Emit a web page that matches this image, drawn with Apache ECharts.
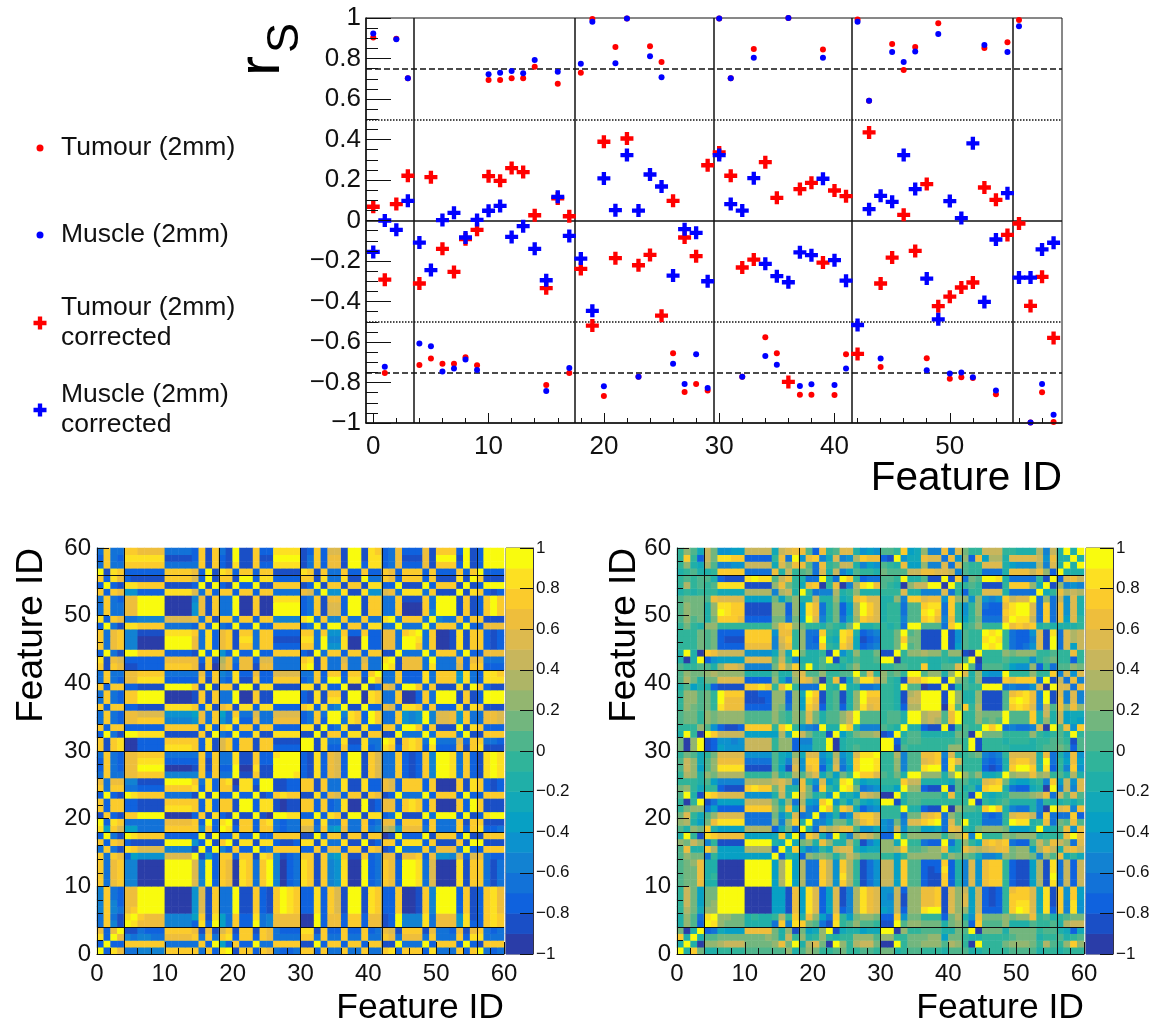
<!DOCTYPE html>
<html><head><meta charset="utf-8">
<style>html,body{margin:0;padding:0;background:#fff}#c{width:1167px;height:1023px}</style>
<script src="https://cdn.jsdelivr.net/npm/echarts@6/dist/echarts.min.js"></script>
</head><body><div id="c"></div>
<script>
const tumour=[.904,-.753,.897,.703,-.713,-.682,-.708,-.708,-.675,-.715,.694,.694,.702,.703,.759,-.812,.675,-.753,.730,.995,-.867,.857,.998,-.771,.860,.783,-.656,-.847,-.807,-.839,.998,.703,-.771,.847,-.577,-.656,1.0,-.860,-.860,.845,-.862,-.661,.992,.591,-.723,.871,.743,.857,-.680,.974,-.781,-.774,-.778,.852,-.858,.880,.990,-.997,-.848,-.995];
const muscle=[.923,-.722,.895,.703,-.608,-.621,-.746,-.731,-.687,-.738,.722,.730,.738,.727,.792,-.842,.735,-.728,.774,.982,-.819,.776,.998,-.771,.811,.707,-.708,-.807,-.661,-.827,.998,.703,-.771,.804,-.669,-.712,1.0,-.817,-.809,.804,-.812,-.731,.982,.591,-.682,.832,.783,.834,-.740,.921,-.756,-.750,-.774,.867,-.840,.832,.959,-.997,-.807,-.959];
const tumourCorrected=[.068,-.292,.081,.221,-.311,.214,-.140,-.254,-.092,-.046,.219,.196,.259,.239,.026,-.334,.109,.021,-.239,-.519,.389,-.186,.405,-.221,-.170,-.470,.097,-.084,-.176,.273,.336,.221,-.232,-.193,.288,.112,-.797,.155,.186,-.208,.148,.120,-.659,.435,-.311,-.183,.028,-.150,.180,-.423,-.376,-.331,-.306,.163,.102,-.071,-.015,-.422,-.278,-.580];
const muscleCorrected=[-.155,0,-.046,.097,-.109,-.245,.002,.038,-.084,.003,.048,.072,-.081,-.028,-.140,-.295,.117,-.076,-.188,-.446,.208,.051,.323,.049,.227,.168,-.272,-.043,-.061,-.300,.323,.081,.049,.209,-.214,-.275,-.305,-.157,-.171,.206,-.196,-.297,-.516,.056,.122,.092,.323,.155,-.287,-.488,.096,.012,.381,-.402,-.094,.135,-.282,-.282,-.143,-.110];
const scatterBounds=[3.5,17.5,29.5,41.5,55.5];
const dashedLevels=[.75,-.75];
const dottedLevels=[.5,-.5];
const matrixBounds=[4,18,30,42,56];
const scatterMajor=[0,10,20,30,40,50];
const scatterMinor=[2,4,6,8,12,14,16,18,22,24,26,28,32,34,36,38,42,44,46,48,52,54,56,58];
const palette=['#2A3DA8','#1A4FC6','#0F62DE','#1272D8','#1282D2','#0C92CE','#07A0C4','#12A8B8','#20AFA8','#30B49A','#4FB58C','#72B67E','#93B670','#AEB566','#C8B65C','#DDBA4E','#EEBE3C','#FBCB2C','#FDE022','#F9FB0E'];
const levelChars='0123456789abcdefghij';
// Lower triangles, row y=0 first, one character per cell: index into the 20 colour levels.
const leftRows=["j","2j","i2j","g2gj","3h41j","3h31ij","4h43ghj","4h42ggjj","4h32ggjjj","4h32ggjjjj",
"h3gh440000j","h3gh440000jj","h3gh440000jjj","h3gh440000jjjj","h3hg265555ffffj","3h31ihffff44441j","h2hg211111jjjj52j","2j31jihhhh22222j1j","i6hf663333hhhhh4h2j","j2ih333333ggggh2j2ij",
"1h21hhjjjj00002h1i21j","h2hh221111iiiih2i2hh1j","h2hh221111hhhhh2i2hh1jj","2j21jihhhh33331j1j22j22j","h3hh332222hhhhi2i2hh1ii1j","g3gg441111jjjjh3i2hi0ii2jj","3h33gghhhh44444h2h33j11h11j","2h32ggjjjj00001h1h22j00i11jj","2h32ggiiii22222h1h33i11h22jjj","3h32gghhhh33333h2h33i11h22ijjj",
"h1hi002222iiiih2i1fh2hh1hh2222j","h1hi002222hhhhh2i1fh2hh1hh1111jj","2j31jjiiii11111h1j32j22i11iiii11j","h2hh222222hhhhh2i2hi2hh2hh2222ii1j","3h32gghhhh44445g3h53i22g33gggg23h2j","3h32ggffff55556g3h63h33f33ffff23h3jj","h2hh221111iiiih2i1gh1ii2ii2222hi2i34j","3h32hhjjjj00001h1h33j00h11jjjj21i1ii1j","3h32hhjjjj00001h1h33j00h11jjjj21i1hh1jj","h2hh221111jjjjh1j1hh1jj1ii1111ii1i22j00j",
"3h32ggiiii22222h1h32i11h22hhhh23h2jj2ii1j","3h33gghhhh33333g2h43i22g22ffff33h2hh2hh2hj","h1hg112222hhhhg1h0eg2gg1gg3333ij1h33g33g33j","i1gf222222ggggg2h1dg3gg2ff3333hi1h33f33f33ij","2j31jjhhhh22221j2j52j22j22hhhh21j3hh2hh2hh11j","h3gh440000jjjjg3i2gh1hh3hh2222hh3j55i00j22gg3j","h3gh440000jjjjg3i2gh1ii3hh1111ii3j44i00j22gg3jj","h3gh441111iiiih3i2gh1hh3hh2222hh3h55h22h22gg3hij","2j31iihhhh33332h2j32j22j22hhhh23j2jj2hh2ii33j333j","i2hg334444ffffg3h1hh3hh2hh4444ij3h44h33h33ij3hhh3j",
"3h33ggjjjj00005g1h33j00h00jjjj23h1ff2jj1hh33h000h4j","3h33ggjjjj00005g1h33j00h00jjjj23h1ff2jj1hh33h000h3jj","3h32ggjjjj00004g1h33j00h00iiii23h1gg2jj1hh33h111h3jjj","h2hg552222iiiif3h2hh2hh2hh3333gf3j55i11i55fg3iii3h111j","2j21iihhhh11112j1j21j22j11hhhh12j1hh1hh1ii22j111j2hhh1j","h2ig211111hhhhf2j1hh1jj2ii2222hh1i33i11j33hg2hhh2h111i1j","j1ih222222hhhhg2j1ih2hh2hh1111ih1h33h22h22hg2hhh2h222h2hj","3h33hhhhhh33333h1h21i11h22iiii13h2gg1jj2ii23g222g1hhh2j12j","2h32iiiiii11112h1h21j11h11jjjj13h2gg1jj1ii23g111g1jjj1j12jj","3h33hhgggg33332h1h31j11h22iiii12h2ff1jj1ih23g222g1hhh2j12jjj"];
const rightRows=["j","8j","h8j","b08j","8ca2j","8ca3ij","9db7ccj","9eb6bcjj","9eb6bbjjj","9eb6bbjjjj",
"abbg880000j","abbg890000jj","abbg880000jjj","abcg880000jjjj","acbb3966666666j","ag88hd6666dddd2j","cbec491111jjjj87j","8j91ihgggg66667h7j","a8cbh86666dddd27b3j","cd86bgiiii3333c4ch8j",
"bf97acffff3333b58f34j","9bcc362222hhhhc9g7f43j","909j136666eeeeb7c3d65hj","aj81ihffff55558e8jeb895j","bc97992111hihhbf88gb3h97j","9998a64444ddddefd4g85f68ij","9dc8cbdddd9999c89dadf7a6b9j","aec6aciiii1111a61f5gh27f36hj","aec7acgggg3333a74e5hh46e47hjj","9ba79bffff5555a76c7ff57d57fiij",
"b0cj126555eeee9cc25599j089a999j","b0cj125545eeee9cc24499j0899999jj","8j90jheeee66666d7jeb991j69bccd12j","999ca52112hhhh9hj9543j88jh8444a98j","abb9cbccccaaaaca9cafb8aacejaaa9aa8j","abb9cbccccaaaaca9cafb8aacejaaa9aa8jj","9cbab9iggg2222cb3c6hf29a28cifg9982ddj","9ccab9jggg1112cc2c6ig19a18cjgg9981eejj","9ccab9jhhh1122cc2c7jh19a18cjhh9981dejjj","8a68821111hhih9gj9333j98j88334998jaa011j",
"adb8bbffff2222c73cgfc09g17ciifc981ggijj1j","acbbcdcccc8888b88dfaac99aajaf9cab9jjacc8cj","a99aa8cffe4444bgch9j8a998ac99999aa99h88aafj","808j256666ffffae94888aj198a99ajj0999988988aj","8j80hgeeee55557d7jb8891j58c99b11j9ccdcc9cc10j","999bab2222gggg4eg9c33h98hf723499bjab111j16a99j","999bab2111hhhh4fh9c32j87ig712399bhbb111j15a99ij","999bab2222hhhh5gg9c33h98ih823499bjab111j15a99jij","9b98cc99999999cghcb998a98bj8899893jjaaa3hj9ac999j","acab8bhhhg2222bb3b6jf48b37chgf8994aahig4g969b333gj",
"acbb8cjihh1111cc2c6ig38b26djhf8993aaijh3h959c222hij","acbb8ciihh1111cc2c6ig38b26djhf8993aahii3h959c322gijj","abbbagffff6666b6ac88e88c78ghff88c4hhfgg5hcc5c545heffj","8989997777dddd4de8j9344d89c888999f88444f39299fff83333j","9d9a9aiiii1111cgb97gh09g04dijga980ceejj0j99a91119hhhc7j","9a9aa82111ijiiaeg9833j83jh9233aa9j88a11j1h3bajji8333391j","89a889hhhh3333g8e9ab3f8e46a998baaaeeggffe4a993338gggegc2j","9c87da4455eeee7fcgga3g9aee8465a98g66c44f3fa99fff86555d4f8j","9h92ebiihh22229g3j5gh47f45dhgg21j577gff3g5c2g6dd8ffffe5g88j","9ca7eb5566eeee7efgga2g9aff8565aa9h67c44g4fb99eee99888d4e8j8j"];

const FONT='"Liberation Sans",Arial,sans-serif';
const INK='#111';
const CROSS='path://M4 0H8V4H12V8H8V12H4V8H0V4H4Z';
const minus=v=>String(+(+v).toFixed(1)).replace('-','\u2212');

function cells(rows){
  const out=[];
  for(let y=0;y<60;y++)for(let x=0;x<60;x++){
    const c=x<=y?rows[y][x]:rows[x][y];
    out.push([x,y,-0.95+0.1*levelChars.indexOf(c)]);
  }
  return out;
}
const idx=Array.from({length:60},(_,i)=>i);
const withX=a=>a.map((v,i)=>[idx[i],v]);
const hiddenCat=(gridIndex,data)=>({type:'category',gridIndex,data,show:false,boundaryGap:true});

function valueAxis(gridIndex,position){
  return {type:'value',gridIndex,position,min:0,max:60,interval:10,z:10,splitLine:{show:false},
    axisLine:{show:true,onZero:false,lineStyle:{color:INK,width:1}},
    axisTick:{show:true,inside:true,length:12,lineStyle:{color:INK,width:1}},
    minorTick:{show:true,splitNumber:5,length:6,lineStyle:{color:INK,width:1}},
    minorSplitLine:{show:false},
    axisLabel:{fontFamily:FONT,fontSize:24,color:INK,margin:position==='left'?6:8,padding:position==='left'?[8,0,0,0]:0}};
}
function cbAxis(gridIndex){
  return {type:'value',gridIndex,position:'right',min:-1,max:1,interval:.2,z:10,splitLine:{show:false},
    axisLine:{show:true,onZero:false,lineStyle:{color:'#334',width:1}},
    axisTick:{show:true,inside:true,length:13,lineStyle:{color:INK,width:1}},
    axisLabel:{fontFamily:FONT,fontSize:17,color:INK,margin:3,padding:[8,0,0,0],formatter:minus}};
}
const cbCats=palette.map((_,i)=>i);
const cbData=palette.map((_,i)=>[0,i,-0.95+0.1*i]);
const heat=(x,y,data)=>({type:'heatmap',xAxisIndex:x,yAxisIndex:y,data,progressive:0,animation:false,itemStyle:{borderWidth:0},emphasis:{disabled:true},z:2});
const guide=(x,y,lines)=>({type:'line',xAxisIndex:x,yAxisIndex:y,data:[],showSymbol:false,silent:true,z:5,
  markLine:{silent:true,symbol:'none',animation:false,label:{show:false},z:5,data:lines}});
const ml=(key,v,type,w)=>({[key]:v,lineStyle:{color:INK,type,width:w}});
const matLines=[...matrixBounds.map(v=>ml('xAxis',v,'solid',1)),...matrixBounds.map(v=>ml('yAxis',v,'solid',1))];
const points=(name,data,symbol,size,color,z)=>({name,type:'scatter',xAxisIndex:0,yAxisIndex:0,data:withX(data),symbol,symbolSize:size,itemStyle:{color,opacity:1},z,emphasis:{disabled:true}});
const legendOf=(name,top,size,left,pad)=>({data:[name],left,top,itemWidth:size,itemHeight:size,selectedMode:false,
  formatter:n=>n.replace(' corrected','\ncorrected'),
  textStyle:{fontFamily:FONT,fontSize:26.5,lineHeight:30,color:INK,padding:[0,0,0,pad]}});
const txt=(text,x,y,size,align,rot)=>({type:'text',x,y,rotation:rot||0,z:20,style:{text,x:0,y:0,font:size+'px '+FONT,fill:'#000',align,verticalAlign:'middle'}});

const option={
  backgroundColor:'#fff',animation:false,
  visualMap:{show:false,type:'piecewise',seriesIndex:[0,1,2,3],dimension:2,
    pieces:palette.map((color,i)=>({min:-1+0.1*i,max:-0.9+0.1*i,color}))},
  legend:[legendOf('Tumour (2mm)',128,7,31.5,12.5),legendOf('Muscle (2mm)',215,7,31.5,12.5),
          legendOf('Tumour (2mm) corrected',288,13,28.5,9.5),legendOf('Muscle (2mm) corrected',375,13,28.5,9.5)],
  grid:[
    {left:366,top:18,width:696,height:405,show:true,borderColor:INK,borderWidth:1,backgroundColor:'transparent'},
    {left:97,top:548,width:407,height:406},
    {left:506,top:548,width:27,height:406,show:true,borderColor:'#334',borderWidth:1},
    {left:677,top:548,width:407,height:406},
    {left:1086,top:548,width:27,height:406,show:true,borderColor:'#334',borderWidth:1}
  ],
  xAxis:[
    {type:'value',gridIndex:0,position:'bottom',min:-.63,max:59.73,z:10,splitLine:{show:false},
      axisLine:{show:true,onZero:false,lineStyle:{color:INK,width:1.5}},
      axisTick:{show:true,inside:true,length:10,customValues:scatterMajor,lineStyle:{color:INK,width:1}},
      axisLabel:{fontFamily:FONT,fontSize:26,color:INK,margin:11,customValues:scatterMajor}},
    {type:'value',gridIndex:0,position:'bottom',min:-.63,max:59.73,z:10,splitLine:{show:false},
      axisLine:{show:false,onZero:false},
      axisTick:{show:true,inside:true,length:5,customValues:scatterMinor,lineStyle:{color:INK,width:1}},
      axisLabel:{show:false}},
    hiddenCat(1,idx),valueAxis(1,'bottom'),
    hiddenCat(2,[0]),
    hiddenCat(3,idx),valueAxis(3,'bottom'),
    hiddenCat(4,[0])
  ],
  yAxis:[
    {type:'value',gridIndex:0,position:'left',min:-1,max:1,interval:.2,z:10,splitLine:{show:false},
      axisLine:{show:true,onZero:false,lineStyle:{color:INK,width:1.5}},
      axisTick:{show:true,inside:true,length:25,lineStyle:{color:INK,width:1}},
      minorTick:{show:true,splitNumber:4,length:12,lineStyle:{color:INK,width:1}},
      axisLabel:{fontFamily:FONT,fontSize:26,color:INK,margin:5,padding:[12,0,0,0],formatter:minus}},
    hiddenCat(1,idx),valueAxis(1,'left'),
    hiddenCat(2,cbCats),cbAxis(2),
    hiddenCat(3,idx),valueAxis(3,'left'),
    hiddenCat(4,cbCats),cbAxis(4)
  ],
  series:[
    heat(2,1,cells(leftRows)),
    heat(4,3,cbData),
    heat(5,5,cells(rightRows)),
    heat(7,7,cbData),
    guide(3,2,matLines),
    guide(6,6,matLines),
    guide(0,0,[
      ...scatterBounds.map(v=>ml('xAxis',v,'solid',1.5)),
      ml('yAxis',0,'solid',1.5),
      ...dashedLevels.map(v=>ml('yAxis',v,'dashed',1.5)),
      ...dottedLevels.map(v=>ml('yAxis',v,'dotted',1.5))
    ]),
    points('Tumour (2mm)',tumour,'circle',6,'#ff0000',6),
    points('Muscle (2mm)',muscle,'circle',6,'#0000ff',7),
    points('Tumour (2mm) corrected',tumourCorrected,CROSS,13,'#ff0000',8),
    points('Muscle (2mm) corrected',muscleCorrected,CROSS,13,'#0000ff',9)
  ],
  graphic:[
    txt('r',262,76,60,'left',Math.PI/2),
    txt('S',286,53,45,'left',Math.PI/2),
    txt('Feature ID',1062,479,40.5,'right'),
    txt('Feature ID',504,1008,35.5,'right'),
    txt('Feature ID',1084,1008,35.5,'right'),
    txt('Feature ID',32,548,37,'right',Math.PI/2),
    txt('Feature ID',625,548,37,'right',Math.PI/2)
  ]
};
const chart=echarts.init(document.getElementById('c'),null,{renderer:'canvas',width:1167,height:1023});
chart.setOption(option);
</script></body></html>
